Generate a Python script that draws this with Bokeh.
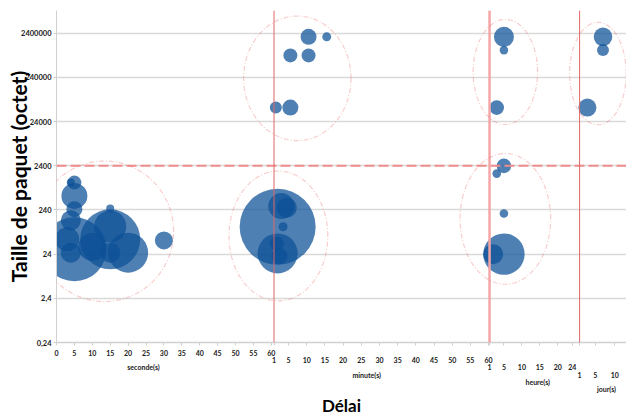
import numpy as np
from bokeh.plotting import figure
from bokeh.models import Range1d, FixedTicker, Span, PolyAnnotation, ColumnDataSource
from bokeh.embed import file_html
from bokeh.resources import INLINE

# ---------------- data ----------------
# seconds
sec_delay = [4, 5, 5, 5, 4, 5, 4, 3, 15, 15, 15, 20, 15, 10, 30]
sec_size  = [1000, 1000, 500, 250, 140, 31, 26, 52, 52, 102, 261, 26, 26, 35, 49]
sec_bulle = [4, 7, 13, 8, 10, 32, 10, 12, 30, 16, 4, 20, 10, 14, 9]
# minutes
min_delay = [2, 3, 4.5, 3.5, 2, 1.8, 2.5, 10.5, 15.5, 5.5, 10.5, 1.5, 5.5]
min_size  = [100, 294, 271, 100, 25, 42, 21.5, 2.0e6, 2.0e6, 7.6e5, 7.6e5, 5.0e4, 5.0e4]
min_bulle = [38, 13, 10, 4.5, 20, 7, 8, 8, 4.5, 7, 7, 6, 8]
# hours
h_delay = [5, 5, 3, 5, 3, 5, 5, 2]
h_size  = [2.0e6, 1.0e6, 5.0e4, 2400, 1600, 200, 24, 24]
h_bulle = [10, 4.3, 7.3, 7.3, 4.3, 4.3, 20.7, 10]
# days
j_delay = [7, 7, 3]
j_size  = [2.0e6, 1.0e6, 5.0e4]
j_bulle = [9.3, 6, 9]

# tick labels
sec_ticks = list(range(0, 61, 5))
min_ticks = [1] + list(range(5, 61, 5))
h_ticks = [1, 5, 10, 15, 20, 24]
j_ticks = [1, 5, 10]
y_ticks = [0.24, 2.4, 24, 240, 2400, 24000, 240000, 2400000]
y_labels = ["0,24", "2,4", "24", "240", "2400", "24000", "240000", "2400000"]
# unit titles: (unit, position in unit, text, row)
titles = [("s", 24.3, "seconde(s)", 2), ("min", 26.5, "minute(s)", 3),
          ("h", 14.4, "heure(s)", 4), ("j", 7.9, "jour(s)", 5)]

# ---------------- composite time axis ----------------
SEG = {"s": (0.0, 1.0, 0), "min": (60.75, 1.0156, 1), "h": (120.95, 1.004, 1), "j": (146.1, 1.089, 1)}
ROW = {"s": 0, "min": 1, "h": 2, "j": 3}


def pos(unit, v):
    start, k, v0 = SEG[unit]
    return round(start + (v - v0) * k, 4)


X_END = 159.2
Y0 = 0.24
FRAME_H = 333
PPD = 44.3
Y1 = Y0 * 10 ** (FRAME_H / PPD)

p = figure(width=626, height=419, x_range=Range1d(0, X_END), y_range=Range1d(Y0, Y1),
           y_axis_type="log", output_backend="svg", toolbar_location=None,
           min_border_left=56, min_border_right=0, min_border_top=10, min_border_bottom=76)
p.outline_line_color = None
p.background_fill_color = "white"
p.border_fill_color = "white"

FONT = "Lato"

# y axis
p.yaxis.ticker = FixedTicker(ticks=y_ticks)
p.ygrid.ticker = FixedTicker(ticks=y_ticks)
p.yaxis.major_label_overrides = {t: l for t, l in zip(y_ticks, y_labels)}
p.yaxis.minor_tick_line_color = None
p.yaxis.major_tick_out = 3
p.yaxis.major_tick_in = 0
p.yaxis.major_tick_line_color = "#d0d0d0"
p.yaxis.axis_line_color = "#d0d0d0"
p.yaxis.major_label_standoff = 2
p.yaxis.major_label_text_font = FONT
p.yaxis.major_label_text_font_style = "bold"
p.yaxis.major_label_text_font_size = "7.5px"
p.yaxis.major_label_text_color = "#1a1a1a"
p.yaxis.axis_label = "Taille de paquet (octet)"
p.yaxis.axis_label_text_font = FONT
p.yaxis.axis_label_text_font_style = "bold"
p.yaxis.axis_label_text_font_size = "21px"
p.yaxis.axis_label_text_line_height = 1.0
p.yaxis.axis_label_text_color = "#000000"
p.yaxis.axis_label_standoff = -13
p.ygrid.grid_line_color = "#d9d9d9"
p.ygrid.grid_line_width = 1.5
p.xgrid.visible = False

# x axis: stacked rows of labels, unit titles as extra rows
labels = {}
real_ticks = []
for unit, ticks in (("s", sec_ticks), ("min", min_ticks), ("h", h_ticks), ("j", j_ticks)):
    for t in ticks:
        x = pos(unit, t)
        real_ticks.append(x)
        labels[x] = "\n".join([" "] * ROW[unit] + [str(t)])
for unit, v, txt, row in titles:
    labels[pos(unit, v)] = "\n".join([" "] * row + [txt])
xt = sorted(labels)
p.xaxis.ticker = FixedTicker(ticks=xt, minor_ticks=sorted(real_ticks))
p.xaxis.major_label_overrides = labels
p.xaxis.major_tick_out = 0
p.xaxis.major_tick_in = 0
p.xaxis.minor_tick_out = 3
p.xaxis.minor_tick_in = 0
p.xaxis.minor_tick_line_color = "#d0d0d0"
p.xaxis.axis_line_color = "#d0d0d0"
p.xaxis.axis_line_width = 1.5
p.xaxis.major_label_standoff = 3
p.xaxis.major_label_text_font = FONT
p.xaxis.major_label_text_font_style = "bold"
p.xaxis.major_label_text_font_size = "7px"
p.xaxis.major_label_text_line_height = 0.92
p.xaxis.major_label_text_color = "#1a1a1a"
p.xaxis.axis_label = "Délai"
p.xaxis.axis_label_text_font = FONT
p.xaxis.axis_label_text_font_style = "bold"
p.xaxis.axis_label_text_font_size = "17px"
p.xaxis.axis_label_text_line_height = 1.0
p.xaxis.axis_label_text_color = "#000000"
p.xaxis.axis_label_standoff = -1

# separators
p.add_layout(Span(location=2400, dimension="width", line_color="#f08c8c", line_width=2,
                  line_dash="10 4"))
p.add_layout(Span(location=pos("min", 1), dimension="height", line_color="#e06666", line_width=1))
p.add_layout(Span(location=pos("h", 1), dimension="height", line_color="#f4a6a6", line_width=2.5))
p.add_layout(Span(location=pos("j", 1), dimension="height", line_color="#e06666", line_width=1))

# group ellipses (unit, centre value, centre size, half width, half height in decades)
ellipses = [("s", 13.4, 79, 19.3, 1.59), ("min", 2.2, 62, 13.8, 1.47),
            ("min", 7.4, 2.3e5, 15.0, 1.41), ("h", 5.4, 3.2e5, 9.0, 1.19),
            ("j", 5.7, 2.95e5, 7.9, 1.16), ("h", 5.4, 151, 12.65, 1.48)]
tt = np.linspace(0, 2 * np.pi, 200)
for unit, cv, cy, a, b in ellipses:
    cx = pos(unit, cv)
    xs = (cx + a * np.cos(tt)).tolist()
    ys = (10 ** (np.log10(cy) + b * np.sin(tt))).tolist()
    p.add_layout(PolyAnnotation(xs=xs, ys=ys, fill_color=None, fill_alpha=0,
                                line_color="#ec5a5a", line_width=1.2, line_dash="5 2 1 2"))

# bubbles
xs, ys, ss = [], [], []
for unit, d, v, b in (("s", sec_delay, sec_size, sec_bulle), ("min", min_delay, min_size, min_bulle),
                      ("h", h_delay, h_size, h_bulle), ("j", j_delay, j_size, j_bulle)):
    xs += [pos(unit, t) for t in d]
    ys += list(v)
    ss += [2 * r for r in b]
src = ColumnDataSource(dict(x=xs, y=ys, s=ss))
p.scatter("x", "y", size="s", source=src, fill_color="#0b4f95", fill_alpha=0.72, line_color=None)

open("out.html", "w").write(file_html(p, INLINE))
